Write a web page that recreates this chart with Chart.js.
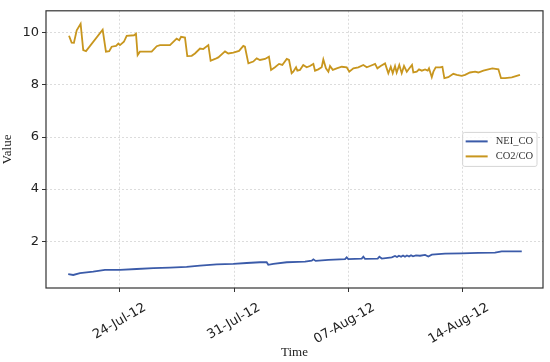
<!DOCTYPE html>
<html>
<head>
<meta charset="utf-8">
<script src="https://cdn.jsdelivr.net/npm/chart.js@4.4.0/dist/chart.umd.min.js"></script>
<style>
  html, body { margin: 0; padding: 0; background: #fff; }
  #wrap { width: 550px; height: 362px; }
</style>
</head>
<body>
<div id="wrap"><canvas id="chart"></canvas></div>
<script>
// x values are days counted in July 2012 (31 = 31-Jul-12, 38 = 07-Aug-12)
const xTickDays = [24, 31, 38, 45];
const xTickLabels = ['24-Jul-12', '31-Jul-12', '07-Aug-12', '14-Aug-12'];
const yTickValues = [2, 4, 6, 8, 10];

const neiTime = [20.83, 21.14, 21.55, 22.36, 23.08, 24.0, 25.02, 26.04, 27.06, 28.08, 28.9, 29.92,
  30.94, 31.76, 32.57, 32.98, 33.08, 33.39, 34.21, 34.92, 35.33, 35.74, 35.84, 35.98, 36.76, 37.78,
  37.88, 37.98, 38.8, 38.9, 39.0, 39.78, 39.88, 40.03, 40.64, 40.84, 40.96, 41.08, 41.21, 41.33,
  41.45, 41.57, 41.7, 41.82, 41.94, 42.12, 42.37, 42.68, 42.88, 43.09, 43.9, 44.92, 45.94, 46.96,
  47.37, 48.6];
const neiValues = [0.73, 0.70, 0.77, 0.83, 0.90, 0.90, 0.93, 0.96, 0.98, 1.01, 1.06, 1.11,
  1.13, 1.16, 1.19, 1.19, 1.09, 1.13, 1.19, 1.20, 1.21, 1.25, 1.30, 1.24, 1.28, 1.31,
  1.38, 1.31, 1.33, 1.40, 1.32, 1.33, 1.40, 1.33, 1.38, 1.43, 1.39, 1.44, 1.40, 1.45,
  1.40, 1.45, 1.41, 1.46, 1.42, 1.45, 1.44, 1.47, 1.41, 1.48, 1.52, 1.53, 1.55, 1.56,
  1.61, 1.61];

const co2Time = [20.88, 21.04, 21.18, 21.35, 21.59, 21.75, 21.92, 22.94, 23.14, 23.34, 23.49, 23.76,
  23.9, 24.0, 24.24, 24.41, 24.86, 24.98, 25.08, 25.22, 25.94, 26.25, 26.45, 27.06, 27.47, 27.63,
  27.74, 27.98, 28.12, 28.39, 28.59, 28.9, 29.1, 29.41, 29.55, 29.82, 30.02, 30.43, 30.63, 30.94,
  31.29, 31.55, 31.65, 31.86, 32.16, 32.37, 32.57, 32.88, 33.12, 33.25, 33.49, 33.74, 33.94, 34.21,
  34.35, 34.51, 34.61, 34.78, 34.86, 35.02, 35.22, 35.43, 35.63, 35.84, 35.94, 36.14, 36.35, 36.45,
  36.61, 36.76, 36.86, 37.03, 37.27, 37.58, 37.88, 38.04, 38.29, 38.59, 38.9, 39.11, 39.31, 39.62,
  39.76, 39.96, 40.23, 40.43, 40.58, 40.7, 40.84, 40.94, 41.1, 41.25, 41.39, 41.56, 41.72, 41.88,
  41.96, 42.17, 42.31, 42.48, 42.68, 42.84, 42.92, 43.09, 43.19, 43.33, 43.6, 43.74, 43.86, 44.1,
  44.41, 44.62, 44.92, 45.13, 45.43, 45.74, 45.94, 46.25, 46.55, 46.8, 47.17, 47.33, 47.58, 47.99,
  48.29, 48.49];
const co2Values = [9.89, 9.63, 9.62, 10.10, 10.35, 9.34, 9.30, 10.12, 9.28, 9.30, 9.47, 9.50,
  9.59, 9.53, 9.66, 9.89, 9.91, 9.97, 9.15, 9.28, 9.28, 9.49, 9.53, 9.53, 9.78, 9.72,
  9.85, 9.82, 9.11, 9.12, 9.21, 9.40, 9.38, 9.53, 8.93, 9.00, 9.06, 9.29, 9.21, 9.24,
  9.31, 9.50, 9.47, 8.83, 8.90, 9.02, 8.96, 9.00, 9.09, 8.58, 8.68, 8.81, 8.77, 9.00,
  8.96, 8.45, 8.51, 8.68, 8.55, 8.58, 8.77, 8.68, 8.73, 8.81, 8.55, 8.60, 8.68, 8.98,
  8.64, 8.51, 8.73, 8.58, 8.64, 8.70, 8.68, 8.51, 8.64, 8.68, 8.77, 8.68, 8.73, 8.81,
  8.64, 8.73, 8.83, 8.45, 8.70, 8.45, 8.73, 8.48, 8.77, 8.45, 8.73, 8.51, 8.64, 8.77,
  8.48, 8.51, 8.60, 8.55, 8.60, 8.55, 8.64, 8.30, 8.51, 8.68, 8.68, 8.70, 8.26, 8.30,
  8.43, 8.39, 8.35, 8.39, 8.48, 8.51, 8.48, 8.55, 8.60, 8.64, 8.60, 8.26, 8.26, 8.29,
  8.35, 8.39];

function points(xs, ys) {
    return xs.map((x, i) => ({ x: x, y: ys[i] }));
}

// box round the plot area
const frame = {
    id: 'frame',
    afterDraw(chart) {
        const { ctx, chartArea: a } = chart;
        ctx.save();
        ctx.strokeStyle = '#333';
        ctx.lineWidth = 1.2;
        ctx.strokeRect(a.left, a.top, a.right - a.left, a.bottom - a.top);
        ctx.restore();
    }
};

// matplotlib style legend, centre right inside the plot
const legendBox = {
    id: 'legendBox',
    afterDraw(chart) {
        const { ctx, chartArea: a } = chart;
        const sets = chart.data.datasets;
        ctx.save();
        ctx.font = '10.5px "Liberation Serif", serif';
        const textW = Math.max(...sets.map(d => ctx.measureText(d.label).width));
        const rowH = 15, lineLen = 22;
        const w = 3 + lineLen + 8 + textW + 4;
        const h = sets.length * rowH + 4;
        const x = a.right - 6 - w;
        const y = (a.top + a.bottom) / 2 - h / 2;
        ctx.fillStyle = 'rgba(255,255,255,0.8)';
        ctx.strokeStyle = '#d5d5d5';
        ctx.lineWidth = 1;
        ctx.beginPath();
        ctx.roundRect(x, y, w, h, 2);
        ctx.fill();
        ctx.stroke();
        sets.forEach((d, i) => {
            const cy = y + 9 + i * rowH;
            ctx.strokeStyle = d.borderColor;
            ctx.lineWidth = 2;
            ctx.beginPath();
            ctx.moveTo(x + 3, cy);
            ctx.lineTo(x + 3 + lineLen, cy);
            ctx.stroke();
            ctx.fillStyle = '#333';
            ctx.textBaseline = 'middle';
            ctx.fillText(d.label, x + 3 + lineLen + 8, cy);
        });
        ctx.restore();
    }
};

const gridOpts = {
    color: '#d3d3d3',
    lineWidth: 0.8,
    tickLength: 4,
    tickColor: '#333',
    tickWidth: 1,
    tickBorderDash: []
};

new Chart(document.getElementById('chart'), {
    type: 'line',
    data: {
        datasets: [{
            label: 'NEI_CO',
            data: points(neiTime, neiValues),
            borderColor: '#3b5ba9',
            borderWidth: 1.8,
            pointRadius: 0,
            fill: false
        }, {
            label: 'CO2/CO',
            data: points(co2Time, co2Values),
            borderColor: '#c8961e',
            borderWidth: 1.8,
            pointRadius: 0,
            fill: false
        }]
    },
    options: {
        responsive: true,
        maintainAspectRatio: false,
        devicePixelRatio: 1,
        animation: false,
        layout: { padding: { top: 9, right: 7, left: 0, bottom: 0 } },
        plugins: {
            legend: { display: false },
            tooltip: { enabled: false }
        },
        scales: {
            x: {
                type: 'linear',
                min: 19.47,
                max: 49.9,
                afterBuildTicks: s => { s.ticks = xTickDays.map(v => ({ value: v })); },
                afterFit: s => { s.height = 74; },
                ticks: {
                    autoSkip: false,
                    minRotation: 30,
                    maxRotation: 30,
                    labelOffset: 25,
                    padding: 8,
                    color: '#222',
                    font: { family: 'DejaVu Sans', size: 13 },
                    callback: (v, i) => xTickLabels[i]
                },
                grid: gridOpts,
                border: { display: false, dash: [2, 2] },
                title: {
                    display: true,
                    text: 'Time',
                    color: '#222',
                    font: { family: 'Liberation Serif', size: 13 },
                    padding: { top: 0, bottom: 2 }
                }
            },
            y: {
                min: 0.2,
                max: 10.85,
                afterBuildTicks: s => { s.ticks = yTickValues.map(v => ({ value: v })); },
                afterFit: s => { s.width = 46; },
                ticks: {
                    padding: 3,
                    color: '#222',
                    font: { family: 'DejaVu Sans', size: 13 }
                },
                grid: gridOpts,
                border: { display: false, dash: [2, 2] },
                title: {
                    display: true,
                    text: 'Value',
                    color: '#222',
                    font: { family: 'Liberation Serif', size: 13 },
                    padding: { top: 0, bottom: 0 }
                }
            }
        }
    },
    plugins: [frame, legendBox]
});
</script>
</body>
</html>
